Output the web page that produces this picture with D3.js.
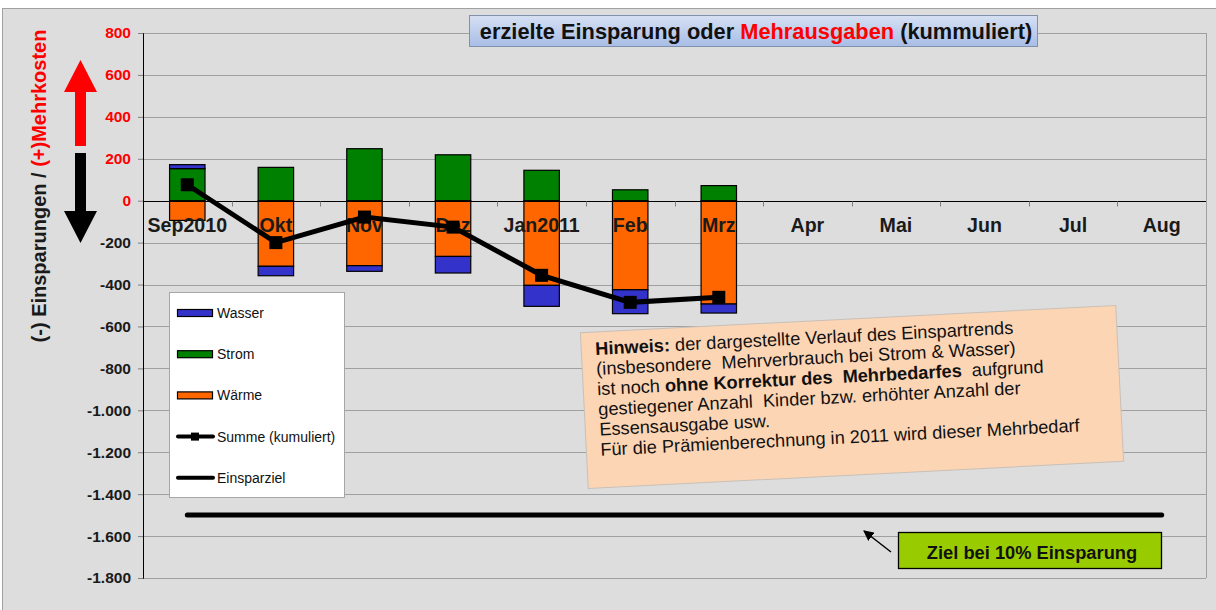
<!DOCTYPE html>
<html>
<head>
<meta charset="utf-8">
<script src="https://cdn.jsdelivr.net/npm/d3@7"></script>
<style>
body { margin: 0; background: #fff; }
svg { display: block; font-family: Arial, "Liberation Sans", sans-serif; }
</style>
</head>
<body>
<div id="chart"></div>
<script>
// month labels on the category axis
var months = ["Sep2010", "Okt", "Nov", "Dez", "Jan2011", "Feb", "Mrz", "Apr", "Mai", "Jun", "Jul", "Aug"];
// months that have data
var barMonths = ["Sep2010", "Okt", "Nov", "Dez", "Jan2011", "Feb", "Mrz"];
var waerme = [-94, -313, -310, -266, -404, -425, -493];
var strom = [153, 159, 248, 219, 145, 52, 72];
var wasser = [19, -45, -27, -79, -100, -114, -43];
var summe = [76, -200, -78, -126, -356, -485, -461];
var einsparziel = [-1500, -1500, -1500, -1500, -1500, -1500, -1500, -1500, -1500, -1500, -1500, -1500];
var yTicks = [-1800, -1600, -1400, -1200, -1000, -800, -600, -400, -200, 0, 200, 400, 600, 800];

var colors = {"Wasser": "#3333cc", "Strom": "#008000", "Wärme": "#ff6600"};

var width = 1216, height = 610;
var margin = {top: 33, right: 10, bottom: 32, left: 143};
var w = width - margin.left - margin.right,
    h = height - margin.top - margin.bottom;

var svg = d3.select("#chart").append("svg")
    .attr("width", width)
    .attr("height", height);

// chart background
svg.append("rect")
    .attr("x", 2.5).attr("y", 8.5)
    .attr("width", width).attr("height", height)
    .attr("fill", "#dddddd")
    .attr("stroke", "#a0a0a0");

var x = d3.scaleBand()
    .domain(months)
    .range([0, w])
    .paddingInner(0.6)
    .paddingOuter(0.3);

var y = d3.scaleLinear()
    .domain([-1800, 800])
    .range([h, 0]);

var cx = function(m) { return x(m) + x.bandwidth() / 2; };

var fmt = d3.formatLocale({decimal: ",", thousands: ".", grouping: [3], currency: ["", ""], minus: "-"}).format(",d");

var g = svg.append("g")
    .attr("transform", "translate(" + margin.left + "," + margin.top + ")");

// gridlines
g.append("g")
    .selectAll("line")
    .data(yTicks)
    .join("line")
    .attr("x1", 0).attr("x2", w)
    .attr("y1", function(d) { return Math.round(y(d)) + 0.5; })
    .attr("y2", function(d) { return Math.round(y(d)) + 0.5; })
    .attr("stroke", "#a0a0a0");

// right border
g.append("line")
    .attr("x1", w + 0.5).attr("x2", w + 0.5)
    .attr("y1", 0).attr("y2", h)
    .attr("stroke", "#a0a0a0");

// y axis
var yAxis = g.append("g")
    .call(d3.axisLeft(y).tickValues(yTicks).tickSize(5).tickPadding(7).tickFormat(fmt));
yAxis.select(".domain").attr("stroke", "#000");
yAxis.selectAll(".tick line").attr("stroke", "#808080");
yAxis.selectAll("text")
    .attr("font-family", "Arial, 'Liberation Sans', sans-serif")
    .attr("font-size", 15.5)
    .attr("font-weight", "bold")
    .attr("fill", function(d) { return d >= 0 ? "#ff0000" : "#1a1a1a"; });

// stacked bars
var rows = barMonths.map(function(m, i) {
    return {month: m, "Wärme": waerme[i], "Strom": strom[i], "Wasser": wasser[i]};
});
var stack = d3.stack()
    .keys(["Wärme", "Strom", "Wasser"])
    .offset(d3.stackOffsetDiverging);
var series = stack(rows);

g.append("g")
    .selectAll("g")
    .data(series)
    .join("g")
    .attr("fill", function(d) { return colors[d.key]; })
    .selectAll("rect")
    .data(function(d) { return d; })
    .join("rect")
    .attr("x", function(d) { return x(d.data.month); })
    .attr("width", x.bandwidth())
    .attr("y", function(d) { return y(d[1]); })
    .attr("height", function(d) { return y(d[0]) - y(d[1]); })
    .attr("stroke", "#000")
    .attr("stroke-width", 1.2);

// zero line with ticks between categories
var y0 = Math.round(y(0)) + 0.5;
g.append("line")
    .attr("x1", 0).attr("x2", w)
    .attr("y1", y0).attr("y2", y0)
    .attr("stroke", "#000");
g.append("g")
    .selectAll("line")
    .data(months.slice(1))
    .join("line")
    .attr("x1", function(d) { return Math.round(x(d) - x.step() * 0.3) + 0.5; })
    .attr("x2", function(d) { return Math.round(x(d) - x.step() * 0.3) + 0.5; })
    .attr("y1", y0).attr("y2", y0 + 5)
    .attr("stroke", "#808080");

// category labels
g.append("g")
    .selectAll("text")
    .data(months)
    .join("text")
    .attr("x", cx)
    .attr("y", y(0) + 31)
    .attr("text-anchor", "middle")
    .attr("font-size", 19.6)
    .attr("font-weight", "bold")
    .attr("fill", "#1a1a1a")
    .text(function(d) { return d; });

// target line
g.append("path")
    .datum(einsparziel)
    .attr("fill", "none")
    .attr("stroke", "#000")
    .attr("stroke-width", 5)
    .attr("stroke-linecap", "round")
    .attr("d", d3.line()
        .x(function(d, i) { return cx(months[i]); })
        .y(function(d) { return y(d); }));

// cumulative sum line
g.append("path")
    .datum(summe)
    .attr("fill", "none")
    .attr("stroke", "#000")
    .attr("stroke-width", 5)
    .attr("d", d3.line()
        .x(function(d, i) { return cx(barMonths[i]); })
        .y(function(d) { return y(d); }));
g.append("g")
    .selectAll("rect")
    .data(summe)
    .join("rect")
    .attr("x", function(d, i) { return cx(barMonths[i]) - 6.5; })
    .attr("y", function(d) { return y(d) - 6.5; })
    .attr("width", 13).attr("height", 13)
    .attr("fill", "#000");

// title box
var defs = svg.append("defs");
var grad = defs.append("linearGradient")
    .attr("id", "titleGrad")
    .attr("x1", 0).attr("y1", 0).attr("x2", 0).attr("y2", 1);
grad.append("stop").attr("offset", "0%").attr("stop-color", "#d6e0f3");
grad.append("stop").attr("offset", "100%").attr("stop-color", "#a8bde6");

svg.append("rect")
    .attr("x", 469.5).attr("y", 15.5)
    .attr("width", 568).attr("height", 31)
    .attr("fill", "url(#titleGrad)")
    .attr("stroke", "#8190ad");
var title = svg.append("text")
    .attr("x", 756).attr("y", 39)
    .attr("text-anchor", "middle")
    .attr("font-size", 21.8)
    .attr("font-weight", "bold")
    .attr("fill", "#111");
title.append("tspan").text("erzielte Einsparung oder ");
title.append("tspan").attr("fill", "#ff0000").text("Mehrausgaben");
title.append("tspan").text(" (kummuliert)");

// y axis title
var ytitle = svg.append("text")
    .attr("transform", "translate(46,186) rotate(-90)")
    .attr("text-anchor", "middle")
    .attr("font-size", 20)
    .attr("font-weight", "bold")
    .attr("fill", "#1a1a1a");
ytitle.append("tspan").text("(-) Einsparungen / ");
ytitle.append("tspan").attr("fill", "#ff0000").text("(+)Mehrkosten");

// direction arrows
svg.append("polygon")
    .attr("points", "80.5,60 97,92 86,92 86,146 75,146 75,92 64,92")
    .attr("fill", "#ff0000");
svg.append("polygon")
    .attr("points", "75,153 86,153 86,211 97,211 80.5,243 64,211 75,211")
    .attr("fill", "#000");

// legend
var legend = svg.append("g").attr("transform", "translate(169,292)");
legend.append("rect")
    .attr("x", 0.5).attr("y", 0.5)
    .attr("width", 175).attr("height", 205)
    .attr("fill", "#fff")
    .attr("stroke", "#a6a6a6");
var legendItems = ["Wasser", "Strom", "Wärme", "Summe (kumuliert)", "Einsparziel"];
var li = legend.selectAll("g.item")
    .data(legendItems)
    .join("g")
    .attr("class", "item")
    .attr("transform", function(d, i) { return "translate(0," + (21 + i * 41.2) + ")"; });
li.filter(function(d, i) { return i < 3; })
    .append("rect")
    .attr("x", 8.5).attr("y", -3.5)
    .attr("width", 35).attr("height", 7)
    .attr("fill", function(d) { return colors[d]; })
    .attr("stroke", "#000")
    .attr("stroke-width", 1.2);
li.filter(function(d, i) { return i >= 3; })
    .append("line")
    .attr("x1", 9).attr("x2", 44)
    .attr("y1", 0).attr("y2", 0)
    .attr("stroke", "#000")
    .attr("stroke-width", 4)
    .attr("stroke-linecap", "round");
li.filter(function(d, i) { return i === 3; })
    .append("rect")
    .attr("x", 22).attr("y", -4)
    .attr("width", 8).attr("height", 8)
    .attr("fill", "#000");
li.append("text")
    .attr("x", 48).attr("y", 5)
    .attr("font-size", 14)
    .attr("fill", "#111")
    .text(function(d) { return d; });

// note box
var note = svg.append("g").attr("transform", "translate(852,397) rotate(-2.9)");
note.append("rect")
    .attr("x", -268).attr("y", -78)
    .attr("width", 536).attr("height", 156)
    .attr("fill", "#fcd5b4")
    .attr("stroke", "#c9c0b8");
var noteLines = [
    [["Hinweis:", true], [" der dargestellte Verlauf des Einspartrends", false]],
    [["(insbesondere  Mehrverbrauch bei Strom & Wasser)", false]],
    [["ist noch ", false], ["ohne Korrektur des  Mehrbedarfes", true], ["  aufgrund", false]],
    [["gestiegener Anzahl  Kinder bzw. erhöhter Anzahl der", false]],
    [["Essensausgabe usw.", false]],
    [["Für die Prämienberechnung in 2011 wird dieser Mehrbedarf", false]]
];
var nt = note.selectAll("text")
    .data(noteLines)
    .join("text")
    .attr("x", -254)
    .attr("y", function(d, i) { return -55 + i * 20.2; })
    .attr("font-size", 18.2)
    .attr("fill", "#111")
    .style("white-space", "pre");
nt.selectAll("tspan")
    .data(function(d) { return d; })
    .join("tspan")
    .attr("font-weight", function(d) { return d[1] ? "bold" : null; })
    .text(function(d) { return d[0]; });

// target annotation
svg.append("rect")
    .attr("x", 898.5).attr("y", 532.5)
    .attr("width", 263).attr("height", 36)
    .attr("fill", "#99cc00")
    .attr("stroke", "#000")
    .attr("stroke-width", 1.3);
svg.append("text")
    .attr("x", 1032).attr("y", 559)
    .attr("text-anchor", "middle")
    .attr("font-size", 18.3)
    .attr("font-weight", "bold")
    .attr("fill", "#111")
    .text("Ziel bei 10% Einsparung");

defs.append("marker")
    .attr("id", "arrowHead")
    .attr("viewBox", "0 0 10 10")
    .attr("refX", 9).attr("refY", 5)
    .attr("markerWidth", 7).attr("markerHeight", 7)
    .attr("orient", "auto")
    .append("path")
    .attr("d", "M0,0 L10,5 L0,10 Z")
    .attr("fill", "#000");
svg.append("line")
    .attr("x1", 891).attr("y1", 552)
    .attr("x2", 864).attr("y2", 531)
    .attr("stroke", "#000")
    .attr("stroke-width", 1.5)
    .attr("marker-end", "url(#arrowHead)");
</script>
</body>
</html>
